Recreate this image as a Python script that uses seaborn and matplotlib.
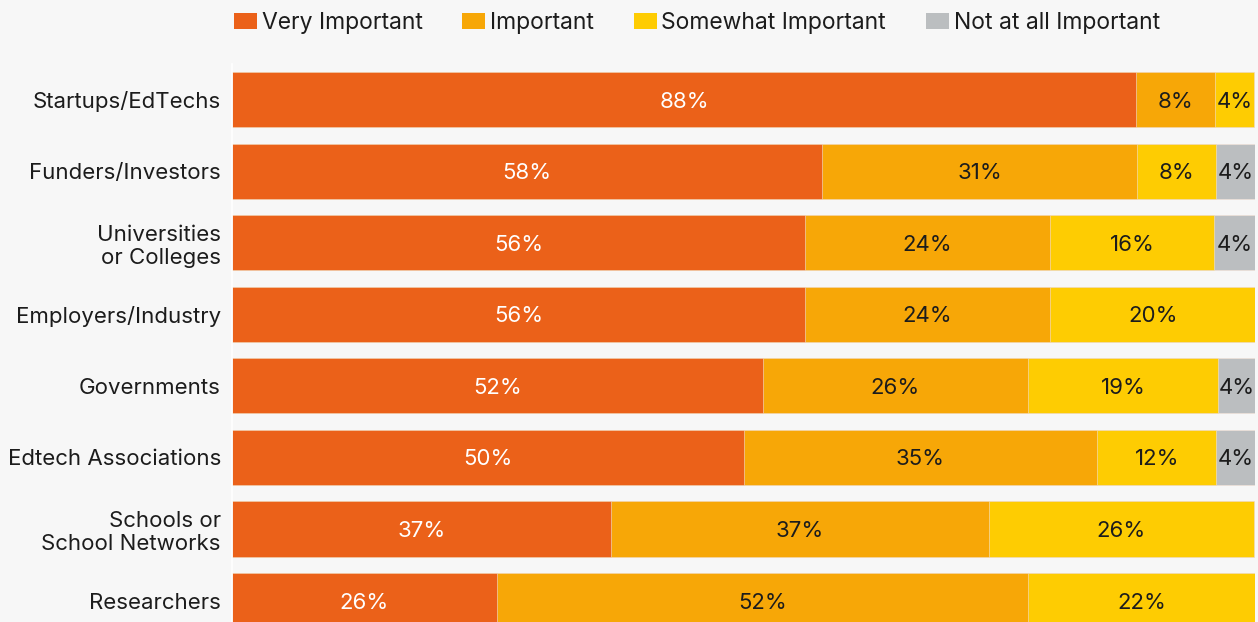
import numpy as np
import pandas as pd
import matplotlib
matplotlib.use("Agg")
import matplotlib.pyplot as plt
from matplotlib.patches import Patch
import seaborn as sns

# Survey data: share of respondents (%) per stakeholder group
categories = [
    "Startups/EdTechs",
    "Funders/Investors",
    "Universities\nor Colleges",
    "Employers/Industry",
    "Governments",
    "Edtech Associations",
    "Schools or\nSchool Networks",
    "Researchers",
]
very_important = [88.4, 57.7, 56.0, 56.0, 51.9, 50.0, 37.0, 25.9]
important = [7.7, 30.8, 24.0, 24.0, 25.9, 34.6, 37.0, 51.9]
somewhat_important = [3.8, 7.7, 16.0, 20.0, 18.6, 11.6, 25.9, 22.2]
not_at_all_important = [0.0, 3.8, 4.0, 0.0, 3.7, 3.8, 0.0, 0.0]

series_names = ["Very Important", "Important", "Somewhat Important", "Not at all Important"]
series_values = [very_important, important, somewhat_important, not_at_all_important]
series_colors = ["#EB6119", "#F7A707", "#FECC02", "#BBBEC0"]
label_colors = ["white", "#1c1c1c", "#1c1c1c", "#1c1c1c"]

BG = "#F7F7F7"
FS = 16

sns.set_style("white", {"axes.facecolor": BG, "figure.facecolor": BG})
plt.rcParams["font.family"] = ["Inter", "DejaVu Sans"]

W, H = 1258, 622
fig = plt.figure(figsize=(W / 100, H / 100), dpi=100, facecolor=BG)
ax = fig.add_axes([232 / W, 0, 1023 / W, 558 / H])
ax.set_facecolor(BG)

# Cumulative totals so each stacked layer can be drawn as one barplot
vals = np.array(series_values)
cum = np.cumsum(vals, axis=0)
df = pd.DataFrame({"category": categories})
for i, name in enumerate(series_names):
    df[name] = cum[i]

# Draw from the longest cumulative bar down so shorter ones sit on top
for i in reversed(range(len(series_names))):
    sns.barplot(
        data=df, x=series_names[i], y="category", orient="h",
        color=series_colors[i], saturation=1, width=0.77,
        edgecolor="#F3E2D6", linewidth=0.4, ax=ax,
    )

# Value labels centred in each segment
for i in range(len(series_names)):
    for j in range(len(categories)):
        v = vals[i, j]
        if v <= 0:
            continue
        xc = cum[i, j] - v / 2
        ax.text(xc, j, f"{v:.0f}%", ha="center", va="center_baseline",
                fontsize=FS, color=label_colors[i])

ax.set_xlim(0, 100)
ax.set_ylim(7.30, -0.497)
ax.set_xlabel("")
ax.set_ylabel("")
ax.set_xticks([])
ax.tick_params(axis="y", length=0, pad=8, labelsize=FS, labelcolor="#1c1c1c")
for side in ["top", "right", "bottom"]:
    ax.spines[side].set_visible(False)
ax.spines["left"].set_color("white")
ax.spines["left"].set_linewidth(1.2)

handles = [Patch(facecolor=c, edgecolor="none") for c in series_colors]
fig.legend(
    handles, series_names, ncol=4, loc="center left",
    bbox_to_anchor=(234 / W, 1 - 23 / H), frameon=False,
    fontsize=16.5, handlelength=1.0, handleheight=0.75,
    handletextpad=0.2, columnspacing=1.75, borderpad=0, borderaxespad=0,
    labelcolor="#1c1c1c",
)

fig.savefig("out.png", dpi=100, facecolor=BG)
